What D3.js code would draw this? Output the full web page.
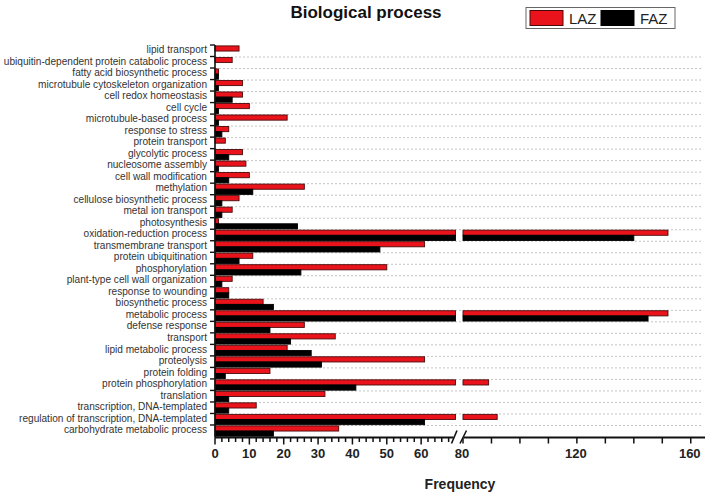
<!DOCTYPE html>
<html>
<head>
<meta charset="utf-8">
<script src="https://cdn.jsdelivr.net/npm/d3@7"></script>
<style>
  html, body { margin: 0; padding: 0; background: #fff; }
  svg { display: block; }
</style>
</head>
<body>
<svg id="chart" width="708" height="495"></svg>
<script>
const categories = [
  "lipid transport",
  "ubiquitin-dependent protein catabolic process",
  "fatty acid biosynthetic process",
  "microtubule cytoskeleton organization",
  "cell redox homeostasis",
  "cell cycle",
  "microtubule-based process",
  "response to stress",
  "protein transport",
  "glycolytic process",
  "nucleosome assembly",
  "cell wall modification",
  "methylation",
  "cellulose biosynthetic process",
  "metal ion transport",
  "photosynthesis",
  "oxidation-reduction process",
  "transmembrane transport",
  "protein ubiquitination",
  "phosphorylation",
  "plant-type cell wall organization",
  "response to wounding",
  "biosynthetic process",
  "metabolic process",
  "defense response",
  "transport",
  "lipid metabolic process",
  "proteolysis",
  "protein folding",
  "protein phosphorylation",
  "translation",
  "transcription, DNA-templated",
  "regulation of transcription, DNA-templated",
  "carbohydrate metabolic process"
];
const LAZ = [7,5,1,8,8,10,21,4,3,8,9,10,26,7,5,1,152,61,11,50,5,4,14,152,26,35,21,61,16,89,32,12,92,36];
const FAZ = [0,0,1,1,5,1,1,2,0,4,1,4,11,2,2,24,140,48,7,25,2,4,17,145,16,22,28,31,3,41,4,4,61,17];
const seriesNames = ["LAZ", "FAZ"];
const seriesColors = ["#eb131b", "#000000"];
const seriesStroke = ["#4a0a0a", "#000000"];
const ticksLow = [0,10,20,30,40,50,60];
const ticksHigh = [80,120,160];
const domainLow = [0, 70];
const domainHigh = [80, 165];

(function () {
const svg = d3.select("#chart");
const pLeft = 215, pTop = 45, pBottom = 436.5, pRight = 705;
const breakL = 455.5, breakR = 463;

const y = d3.scaleBand().domain(categories).range([pTop, pBottom]).padding(0);
const x1 = d3.scaleLinear().domain(domainLow).range([pLeft, breakL]);
const x2 = d3.scaleLinear().domain(domainHigh).range([breakR, pRight]);
const bw = y.bandwidth();
const barH = (bw - 1.2) / 2;

// gridlines
const grid = svg.append("g");
categories.forEach((c, i) => {
  if (i === 0) return;
  grid.append("line")
    .attr("x1", pLeft).attr("x2", pRight - 2)
    .attr("y1", y(c) + 0.5).attr("y2", y(c) + 0.5)
    .attr("stroke", "#c4c4c4").attr("stroke-width", 1)
    .attr("stroke-dasharray", "2,2");
});

// bars
const series = [LAZ, FAZ];
series.forEach((vals, s) => {
  const g = svg.append("g");
  vals.forEach((v, i) => {
    if (v <= 0) return;
    const yy = y(categories[i]) + 0.9 + s * barH;
    const segs = [];
    if (v <= domainLow[1]) segs.push([x1(0), x1(v)]);
    else {
      segs.push([x1(0), x1(domainLow[1])]);
      segs.push([x2(domainHigh[0]), x2(v)]);
    }
    segs.forEach(([a, b]) => {
      g.append("rect")
        .attr("x", a).attr("y", yy)
        .attr("width", Math.max(0.8, b - a)).attr("height", barH)
        .attr("fill", seriesColors[s])
        .attr("stroke", seriesStroke[s]).attr("stroke-width", 0.9);
    });
  });
});

// y axis
const yAxis = svg.append("g");
yAxis.append("line").attr("x1", pLeft).attr("x2", pLeft).attr("y1", pTop).attr("y2", pBottom + 1)
  .attr("stroke", "#111").attr("stroke-width", 1.6);
categories.forEach((c, i) => {
  yAxis.append("line").attr("x1", pLeft - 5).attr("x2", pLeft)
    .attr("y1", y(c)).attr("y2", y(c)).attr("stroke", "#111").attr("stroke-width", 1.4);
  yAxis.append("text")
    .attr("x", pLeft - 8).attr("y", y(c) + bw / 2 - 0.3)
    .attr("text-anchor", "end").attr("dominant-baseline", "middle")
    .attr("font-family", "Liberation Sans, Arial, sans-serif")
    .attr("font-size", "10.1px").attr("fill", "#333")
    .text(c);
});

// x axis
const axY = pBottom + 1;
const xa = svg.append("g");
xa.append("line").attr("x1", pLeft).attr("x2", breakL - 2).attr("y1", axY).attr("y2", axY)
  .attr("stroke", "#111").attr("stroke-width", 1.8);
xa.append("line").attr("x1", breakR + 1).attr("x2", pRight).attr("y1", axY).attr("y2", axY)
  .attr("stroke", "#111").attr("stroke-width", 1.8);
d3.range(0, 70, 2).forEach(v => {
  const major = v % 10 === 0;
  xa.append("line").attr("x1", x1(v)).attr("x2", x1(v))
    .attr("y1", axY).attr("y2", axY + (major ? 7 : 4.5))
    .attr("stroke", "#111").attr("stroke-width", 1.5);
});
d3.range(80, 161, 10).forEach(v => {
  xa.append("line").attr("x1", x2(v)).attr("x2", x2(v))
    .attr("y1", axY).attr("y2", axY + 6)
    .attr("stroke", "#111").attr("stroke-width", 1.5);
});
const tickFont = "Liberation Sans, Arial, sans-serif";
ticksLow.forEach(v => {
  xa.append("text").attr("x", x1(v)).attr("y", axY + 20.5)
    .attr("text-anchor", "middle").attr("font-family", tickFont)
    .attr("font-weight", "bold").attr("font-size", "13px").attr("fill", "#222")
    .text(v);
});
ticksHigh.forEach(v => {
  xa.append("text").attr("x", x2(v) - 1).attr("y", axY + 20.5)
    .attr("text-anchor", "middle").attr("font-family", tickFont)
    .attr("font-weight", "bold").attr("font-size", "13px").attr("fill", "#222")
    .text(v);
});
// break marks
[[451.5, 457], [460, 466.5]].forEach(([a, b]) => {
  xa.append("line").attr("x1", a).attr("y1", axY + 6).attr("x2", b).attr("y2", axY - 7)
    .attr("stroke", "#111").attr("stroke-width", 1.6);
});

// axis title
svg.append("text").attr("x", 460).attr("y", 489)
  .attr("text-anchor", "middle").attr("font-family", tickFont)
  .attr("font-weight", "bold").attr("font-size", "14px").attr("fill", "#222")
  .text("Frequency");

// title
svg.append("text").attr("x", 366).attr("y", 18)
  .attr("text-anchor", "middle").attr("font-family", tickFont)
  .attr("font-weight", "bold").attr("font-size", "17px").attr("fill", "#111")
  .text("Biological process");

// legend
const lg = svg.append("g");
lg.append("rect").attr("x", 526).attr("y", 7.5).attr("width", 149).attr("height", 21)
  .attr("fill", "#fff").attr("stroke", "#666").attr("stroke-width", 1);
const legendX = [[530, 569], [601, 640]];
seriesNames.forEach((n, s) => {
  lg.append("rect").attr("x", legendX[s][0]).attr("y", 10.5).attr("width", 33).attr("height", 15)
    .attr("fill", seriesColors[s]).attr("stroke", seriesStroke[s]).attr("stroke-width", 1);
  lg.append("text").attr("x", legendX[s][1]).attr("y", 24)
    .attr("font-family", tickFont).attr("font-size", "15px").attr("fill", "#222")
    .text(n);
});
})();
</script>
</body>
</html>
